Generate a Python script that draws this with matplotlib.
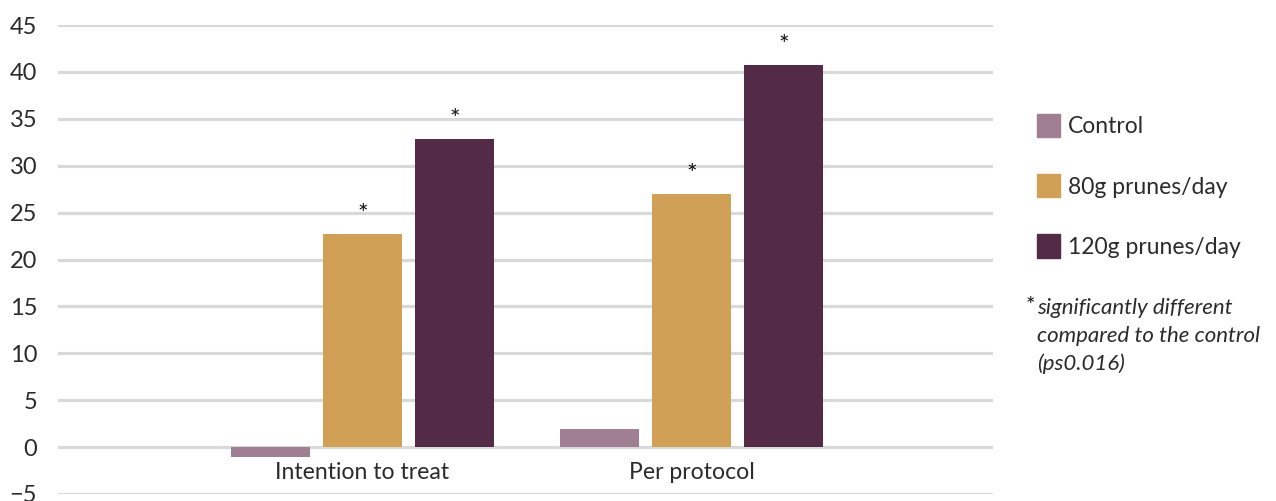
import matplotlib
matplotlib.use('Agg')
import matplotlib.pyplot as plt
from matplotlib.patches import Rectangle
import numpy as np

plt.rcParams['font.family'] = ['Lato', 'DejaVu Sans']
plt.rcParams['font.weight'] = 'normal'

categories = ['Intention to treat', 'Per protocol']
series = ['Control', '80g prunes/day', '120g prunes/day']
control = [-1.1, 1.9]
prunes80 = [22.7, 27.0]
prunes120 = [32.8, 40.7]
signif = [[False, True, True], [False, True, True]]
colors = ['#a07f93', '#cfa055', '#532b46']
txt = '#2b2b2b'

fig = plt.figure(figsize=(12.76, 5.01), dpi=100)
ax = fig.add_axes([0.0455, 0.014, 0.7325, 0.936])

x = np.arange(len(categories))
step = 0.28
w = 0.24
vals = [control, prunes80, prunes120]
for i, (v, c) in enumerate(zip(vals, colors)):
    xs = x + (i - 1) * step
    ax.bar(xs, v, width=w, color=c, zorder=3)
    for j in range(len(categories)):
        if signif[j][i]:
            ax.text(xs[j], v[j] + 1.3, '*', ha='center', va='baseline', fontsize=18, color='#111111')

for j, cat in enumerate(categories):
    ax.text(x[j], -2.7, cat, ha='center', va='center', fontsize=16.6, color=txt)

ax.set_xlim(-0.9255, 1.916)
ax.set_ylim(-5, 45)
ax.set_yticks(np.arange(-5, 46, 5))
ax.set_xticks([])
ax.grid(axis='y', color='#d9d9d9', linewidth=2.3, zorder=0)
ax.tick_params(axis='y', length=0, pad=15, labelsize=17, labelcolor=txt)
for s in ax.spines.values():
    s.set_visible(False)

# legend drawn by hand in figure pixels
ys = [125, 185, 246]
for lab, c, yp in zip(series, colors, ys):
    fy = 1 - yp / 501
    fig.patches.append(Rectangle((1037 / 1276, fy - 11.5 / 501), 23 / 1276, 23 / 501,
                                 transform=fig.transFigure, color=c))
    fig.text(1068 / 1276, fy - 2 / 501, lab, ha='left', va='center', fontsize=16.5, color=txt)

fig.text(1026 / 1276, 1 - 312 / 501, '*', ha='left', va='baseline', fontsize=16, color='#111111')
note = ['significantly different', 'compared to the control', '(ps0.016)']
for k, ln in enumerate(note):
    fig.text(1037 / 1276, 1 - (308 + 28 * k) / 501, ln, ha='left', va='center',
             fontsize=16, style='italic', color=txt)

fig.savefig('out.png', dpi=100)
